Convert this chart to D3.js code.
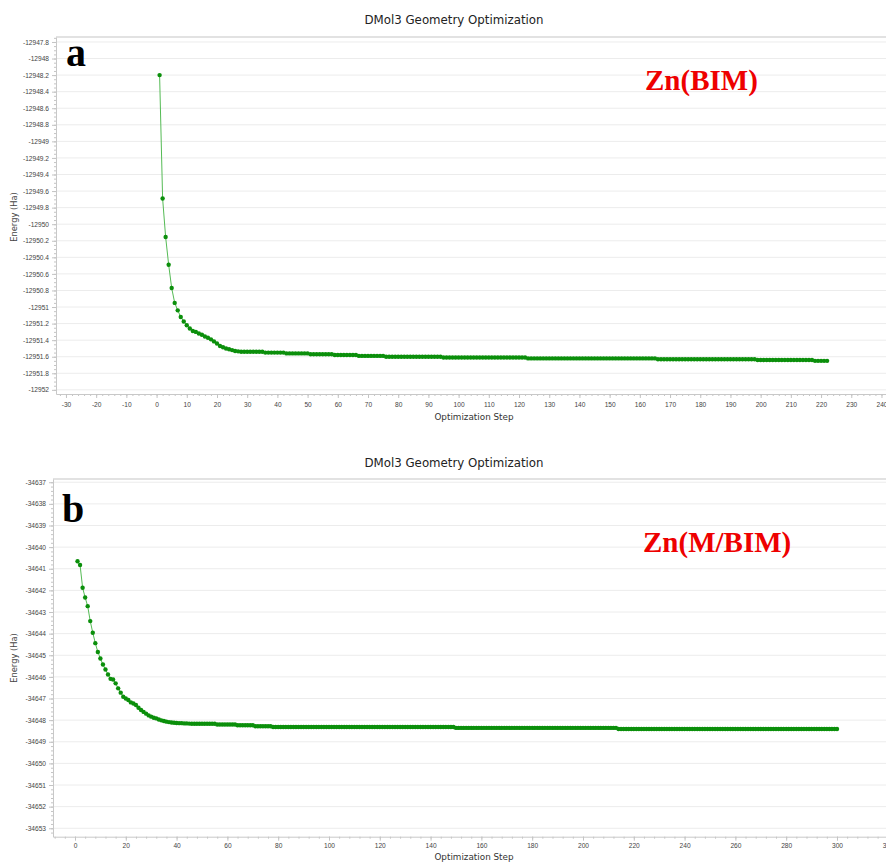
<!DOCTYPE html>
<html><head><meta charset="utf-8">
<script src="https://cdn.jsdelivr.net/npm/d3@7"></script>
<style>html,body{margin:0;padding:0;background:#fff;} svg{display:block;}</style>
</head><body>
<svg id="chart" width="886" height="863"></svg>
<script>
const titleText = "DMol3 Geometry Optimization";
const xLabelText = "Optimization Step";
const yLabelText = "Energy (Ha)";
const panelLetters = ["a", "b"];
const compoundNames = ["Zn(BIM)", "Zn(M/BIM)"];

// Panel a: Zn(BIM), total energy (Ha) per optimization step 1..222
const energyA = [
  -12948.20, -12949.69, -12950.155, -12950.49, -12950.77, -12950.95, -12951.04, -12951.12, -12951.175, -12951.22,
  -12951.26, -12951.29, -12951.30, -12951.32, -12951.335, -12951.355, -12951.37, -12951.39, -12951.415, -12951.44,
  -12951.47, -12951.485, -12951.50, -12951.51, -12951.52, -12951.53, -12951.535,
  // 28-35
  -12951.54, -12951.54, -12951.54, -12951.54, -12951.54, -12951.54, -12951.54, -12951.54,
  // 36-42
  -12951.55, -12951.55, -12951.55, -12951.55, -12951.55, -12951.55, -12951.55,
  // 43-50
  -12951.56, -12951.56, -12951.56, -12951.56, -12951.56, -12951.56, -12951.56, -12951.56,
  // 51-58
  -12951.57, -12951.57, -12951.57, -12951.57, -12951.57, -12951.57, -12951.57, -12951.57,
  // 59-66
  -12951.58, -12951.58, -12951.58, -12951.58, -12951.58, -12951.58, -12951.58, -12951.58,
  // 67-75
  -12951.59, -12951.59, -12951.59, -12951.59, -12951.59, -12951.59, -12951.59, -12951.59, -12951.59,
  // 76-94
  -12951.60, -12951.60, -12951.60, -12951.60, -12951.60, -12951.60, -12951.60, -12951.60, -12951.60, -12951.60,
  -12951.60, -12951.60, -12951.60, -12951.60, -12951.60, -12951.60, -12951.60, -12951.60, -12951.60,
  // 95-122
  -12951.61, -12951.61, -12951.61, -12951.61, -12951.61, -12951.61, -12951.61, -12951.61, -12951.61, -12951.61,
  -12951.61, -12951.61, -12951.61, -12951.61, -12951.61, -12951.61, -12951.61, -12951.61, -12951.61, -12951.61,
  -12951.61, -12951.61, -12951.61, -12951.61, -12951.61, -12951.61, -12951.61, -12951.61,
  // 123-165
  -12951.62, -12951.62, -12951.62, -12951.62, -12951.62, -12951.62, -12951.62, -12951.62, -12951.62, -12951.62,
  -12951.62, -12951.62, -12951.62, -12951.62, -12951.62, -12951.62, -12951.62, -12951.62, -12951.62, -12951.62,
  -12951.62, -12951.62, -12951.62, -12951.62, -12951.62, -12951.62, -12951.62, -12951.62, -12951.62, -12951.62,
  -12951.62, -12951.62, -12951.62, -12951.62, -12951.62, -12951.62, -12951.62, -12951.62, -12951.62, -12951.62,
  -12951.62, -12951.62, -12951.62,
  // 166-198
  -12951.63, -12951.63, -12951.63, -12951.63, -12951.63, -12951.63, -12951.63, -12951.63, -12951.63, -12951.63,
  -12951.63, -12951.63, -12951.63, -12951.63, -12951.63, -12951.63, -12951.63, -12951.63, -12951.63, -12951.63,
  -12951.63, -12951.63, -12951.63, -12951.63, -12951.63, -12951.63, -12951.63, -12951.63, -12951.63, -12951.63,
  -12951.63, -12951.63, -12951.63,
  // 199-217
  -12951.64, -12951.64, -12951.64, -12951.64, -12951.64, -12951.64, -12951.64, -12951.64, -12951.64, -12951.64,
  -12951.64, -12951.64, -12951.64, -12951.64, -12951.64, -12951.64, -12951.64, -12951.64, -12951.64,
  // 218-222
  -12951.65, -12951.65, -12951.65, -12951.65, -12951.65
];

// Panel b: Zn(M/BIM), total energy (Ha) per optimization step 1..300
const energyB = [
  -34640.65, -34640.83, -34641.88, -34642.33, -34642.73, -34643.42, -34643.96, -34644.44, -34644.85, -34645.15,
  -34645.43, -34645.66, -34645.89, -34646.09, -34646.12, -34646.30, -34646.53, -34646.73, -34646.92, -34647.00,
  -34647.07, -34647.18, -34647.23, -34647.30, -34647.43, -34647.53, -34647.62, -34647.70, -34647.78, -34647.84,
  -34647.89, -34647.92, -34647.97, -34648.01, -34648.04, -34648.07, -34648.09, -34648.11, -34648.12, -34648.13,
  -34648.14, -34648.14, -34648.15, -34648.15, -34648.16,
  // 46-55
  -34648.17, -34648.17, -34648.17, -34648.17, -34648.17, -34648.17, -34648.17, -34648.17, -34648.17, -34648.17,
  // 56-63
  -34648.20, -34648.20, -34648.20, -34648.20, -34648.20, -34648.20, -34648.20, -34648.20,
  // 64-70
  -34648.24, -34648.24, -34648.24, -34648.24, -34648.24, -34648.24, -34648.24,
  // 71-77
  -34648.28, -34648.28, -34648.28, -34648.28, -34648.28, -34648.28, -34648.28,
  // 78-149
  -34648.32, -34648.32, -34648.32, -34648.32, -34648.32, -34648.32, -34648.32, -34648.32, -34648.32, -34648.32,
  -34648.32, -34648.32, -34648.32, -34648.32, -34648.32, -34648.32, -34648.32, -34648.32, -34648.32, -34648.32,
  -34648.32, -34648.32, -34648.32, -34648.32, -34648.32, -34648.32, -34648.32, -34648.32, -34648.32, -34648.32,
  -34648.32, -34648.32, -34648.32, -34648.32, -34648.32, -34648.32, -34648.32, -34648.32, -34648.32, -34648.32,
  -34648.32, -34648.32, -34648.32, -34648.32, -34648.32, -34648.32, -34648.32, -34648.32, -34648.32, -34648.32,
  -34648.32, -34648.32, -34648.32, -34648.32, -34648.32, -34648.32, -34648.32, -34648.32, -34648.32, -34648.32,
  -34648.32, -34648.32, -34648.32, -34648.32, -34648.32, -34648.32, -34648.32, -34648.32, -34648.32, -34648.32,
  -34648.32, -34648.32,
  // 150-213
  -34648.36, -34648.36, -34648.36, -34648.36, -34648.36, -34648.36, -34648.36, -34648.36, -34648.36, -34648.36,
  -34648.36, -34648.36, -34648.36, -34648.36, -34648.36, -34648.36, -34648.36, -34648.36, -34648.36, -34648.36,
  -34648.36, -34648.36, -34648.36, -34648.36, -34648.36, -34648.36, -34648.36, -34648.36, -34648.36, -34648.36,
  -34648.36, -34648.36, -34648.36, -34648.36, -34648.36, -34648.36, -34648.36, -34648.36, -34648.36, -34648.36,
  -34648.36, -34648.36, -34648.36, -34648.36, -34648.36, -34648.36, -34648.36, -34648.36, -34648.36, -34648.36,
  -34648.36, -34648.36, -34648.36, -34648.36, -34648.36, -34648.36, -34648.36, -34648.36, -34648.36, -34648.36,
  -34648.36, -34648.36, -34648.36, -34648.36,
  // 214-300
  -34648.41, -34648.41, -34648.41, -34648.41, -34648.41, -34648.41, -34648.41, -34648.41, -34648.41, -34648.41,
  -34648.41, -34648.41, -34648.41, -34648.41, -34648.41, -34648.41, -34648.41, -34648.41, -34648.41, -34648.41,
  -34648.41, -34648.41, -34648.41, -34648.41, -34648.41, -34648.41, -34648.41, -34648.41, -34648.41, -34648.41,
  -34648.41, -34648.41, -34648.41, -34648.41, -34648.41, -34648.41, -34648.41, -34648.41, -34648.41, -34648.41,
  -34648.41, -34648.41, -34648.41, -34648.41, -34648.41, -34648.41, -34648.41, -34648.41, -34648.41, -34648.41,
  -34648.41, -34648.41, -34648.41, -34648.41, -34648.41, -34648.41, -34648.41, -34648.41, -34648.41, -34648.41,
  -34648.41, -34648.41, -34648.41, -34648.41, -34648.41, -34648.41, -34648.41, -34648.41, -34648.41, -34648.41,
  -34648.41, -34648.41, -34648.41, -34648.41, -34648.41, -34648.41, -34648.41, -34648.41, -34648.41, -34648.41,
  -34648.41, -34648.41, -34648.41, -34648.41, -34648.41, -34648.41, -34648.41
];

const xTicksA = [-30, -20, -10, 0, 10, 20, 30, 40, 50, 60, 70, 80, 90, 100, 110, 120, 130, 140, 150, 160, 170, 180, 190, 200, 210, 220, 230, 240];
const yTicksA = [-12947.8, -12948, -12948.2, -12948.4, -12948.6, -12948.8, -12949, -12949.2, -12949.4, -12949.6, -12949.8,
  -12950, -12950.2, -12950.4, -12950.6, -12950.8, -12951, -12951.2, -12951.4, -12951.6, -12951.8, -12952];
const xTicksB = [0, 20, 40, 60, 80, 100, 120, 140, 160, 180, 200, 220, 240, 260, 280, 300, 320];
const yTicksB = [-34637, -34638, -34639, -34640, -34641, -34642, -34643, -34644, -34645, -34646, -34647, -34648, -34649,
  -34650, -34651, -34652, -34653];

const panels = [
  { energy: energyA, letter: panelLetters[0], name: compoundNames[0], xTicks: xTicksA, yTicks: yTicksA,
    xMinor: 2, yMinor: 0.05, xDomain: [-33.3, 241.5], yDomain: [-12952.05, -12947.74],
    left: 56, right: 886, top: 37, bottom: 394, titleY: 24,
    letterX: 66, letterY: 66, nameX: 645, nameY: 89.5, yLabelY: 217, xLabelY: 420, xTickY: 406.5 },
  { energy: energyB, letter: panelLetters[1], name: compoundNames[1], xTicks: xTicksB, yTicks: yTicksB,
    xMinor: 4, yMinor: 0.2, xDomain: [-8.66, 319.3], yDomain: [-34653.39, -34636.85],
    left: 53, right: 886, top: 479, bottom: 836.7, titleY: 467,
    letterX: 62, letterY: 522, nameX: 643, nameY: 552, yLabelY: 658, xLabelY: 860, xTickY: 848 }
];

const fmt = d => String(+d.toFixed(2));
const svg = d3.select("#chart");

panels.forEach(p => {
  const x = d3.scaleLinear().domain(p.xDomain).range([p.left, p.right]);
  const y = d3.scaleLinear().domain(p.yDomain).range([p.bottom, p.top]);
  const g = svg.append("g");

  g.append("text").attr("x", 454).attr("y", p.titleY).attr("text-anchor", "middle")
    .attr("font-family", "DejaVu Sans, sans-serif").attr("font-size", 11.8).attr("fill", "#222")
    .text(titleText);

  g.append("line").attr("x1", p.left).attr("x2", p.right).attr("y1", p.top).attr("y2", p.top)
    .attr("stroke", "#e2e2e2").attr("stroke-width", 2);

  g.append("g").selectAll("line").data(p.yTicks).join("line")
    .attr("x1", p.left).attr("x2", p.right)
    .attr("y1", d => y(d)).attr("y2", d => y(d))
    .attr("stroke", "#ececec").attr("stroke-width", 1);

  const yMin = d3.range(Math.ceil(p.yDomain[0] / p.yMinor) * p.yMinor, p.yDomain[1], p.yMinor);
  const xMin = d3.range(Math.ceil(p.xDomain[0] / p.xMinor) * p.xMinor, p.xDomain[1], p.xMinor);
  const yAxisMinor = d3.axisLeft(y).tickValues(yMin).tickFormat("").tickSize(2).tickSizeOuter(0);
  const xAxisMinor = d3.axisBottom(x).tickValues(xMin).tickFormat("").tickSize(2).tickSizeOuter(0);
  g.append("g").attr("transform", `translate(${p.left},0)`).call(yAxisMinor)
    .call(a => a.select(".domain").remove()).selectAll("line").attr("stroke", "#c4c4c4");
  g.append("g").attr("transform", `translate(0,${p.bottom})`).call(xAxisMinor)
    .call(a => a.select(".domain").remove()).selectAll("line").attr("stroke", "#c4c4c4");

  const yAxis = d3.axisLeft(y).tickValues(p.yTicks).tickFormat(fmt).tickSize(4).tickPadding(3).tickSizeOuter(0);
  const xAxis = d3.axisBottom(x).tickValues(p.xTicks).tickFormat(fmt).tickSize(4).tickPadding(4).tickSizeOuter(0);
  const ya = g.append("g").attr("transform", `translate(${p.left},0)`).call(yAxis);
  const xa = g.append("g").attr("transform", `translate(0,${p.bottom})`).call(xAxis);
  [ya, xa].forEach(a => {
    a.select(".domain").attr("stroke", "#c8c8c8");
    a.selectAll(".tick line").attr("stroke", "#c4c4c4");
    a.selectAll(".tick text").attr("font-family", "Liberation Sans, Arial, sans-serif")
      .attr("font-size", 6.6).attr("fill", "#444");
  });
  xa.selectAll(".tick text").attr("dy", null).attr("y", p.xTickY - p.bottom);

  g.append("text").attr("transform", `translate(17,${p.yLabelY}) rotate(-90)`).attr("text-anchor", "middle")
    .attr("font-family", "DejaVu Sans, sans-serif").attr("font-size", 8.3).attr("fill", "#444")
    .text(yLabelText);
  g.append("text").attr("x", 474).attr("y", p.xLabelY).attr("text-anchor", "middle")
    .attr("font-family", "DejaVu Sans, sans-serif").attr("font-size", 8.8).attr("fill", "#333")
    .text(xLabelText);

  const pts = p.energy.map((e, i) => ({ step: i + 1, e }));
  const line = d3.line().x(d => x(d.step)).y(d => y(d.e));
  g.append("path").datum(pts).attr("d", line).attr("fill", "none")
    .attr("stroke", "#55bb55").attr("stroke-width", 1);
  g.append("g").selectAll("circle").data(pts).join("circle")
    .attr("cx", d => x(d.step)).attr("cy", d => y(d.e)).attr("r", 2.2)
    .attr("fill", "#0b8f0b");

  g.append("text").attr("x", p.letterX).attr("y", p.letterY)
    .attr("font-family", "Liberation Serif, Times New Roman, serif").attr("font-weight", "bold")
    .attr("font-size", 40).attr("fill", "#000").text(p.letter);
  g.append("text").attr("x", p.nameX).attr("y", p.nameY)
    .attr("font-family", "Liberation Serif, Times New Roman, serif").attr("font-weight", "bold")
    .attr("font-size", 29).attr("fill", "#ee0000").text(p.name);
});
</script>
</body></html>
